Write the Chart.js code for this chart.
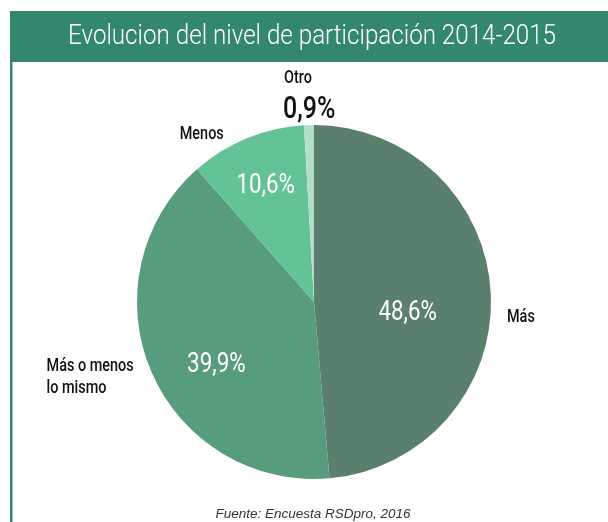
<!DOCTYPE html>
<html>
<head>
<meta charset="utf-8">
<script src="https://cdn.jsdelivr.net/npm/chart.js@4"></script>
<style>
  html, body { margin: 0; padding: 0; background: #fff; }
  #wrap { width: 608px; height: 522px; position: relative; }
</style>
</head>
<body>
<div id="wrap"><canvas id="pie" width="608" height="522"></canvas></div>
<script>
const labels = ["Más", "Más o menos|lo mismo", "Menos", "Otro"];
const values = [48.6, 39.9, 10.6, 0.9];
const colors = ["#5b7f6d", "#579c7d", "#63c397", "#b3dec7"];

const fmt = v => v.toFixed(1).replace(".", ",") + "%";

// narrow text: draw Roboto squeezed horizontally
function narrowText(c, text, x, y, font, sx, align) {
  c.save();
  c.font = font;
  c.textBaseline = "middle";
  c.textAlign = "left";
  const w = c.measureText(text).width * sx;
  let left = x;
  if (align === "center") left = x - w / 2;
  if (align === "right") left = x - w;
  c.translate(left, y);
  c.scale(sx, 1);
  c.fillText(text, 0, 0);
  c.restore();
}

// label placement: fraction of radius along slice middle, plus a nudge
const inside = [
  { r: 0.53, dx: 0, dy: 15 },
  { r: 0.60, dx: 0, dy: 21 },
  { r: 0.72, dx: 0, dy: 2 },
  null,
];
const outside = [
  { r: 1.17, dx: 0, dy: 24, align: "center" },
  { r: 1.22, dx: -69, dy: -21, align: "left" },
  { r: 1.06, dx: -63, dy: 6, align: "left" },
  { r: 1.00, dx: -25, dy: -47, align: "left" },
];

const decor = {
  id: "decor",
  beforeDraw(chart) {
    const c = chart.ctx;
    c.save();
    c.fillStyle = "#33876f";
    c.fillRect(10, 11, 598, 51);
    c.fillRect(10, 11, 2.5, 511);
    c.fillStyle = "#fff";
    const title = "Evolucion del nivel de participación 2014-2015";
    c.font = "300 28px Roboto";
    const sx = 488 / c.measureText(title).width;
    narrowText(c, title, 312, 37, "300 28px Roboto", sx, "center");
    c.fillStyle = "#333";
    c.font = "italic 13.5px 'Liberation Sans', Arial, sans-serif";
    c.textAlign = "center";
    c.textBaseline = "alphabetic";
    c.fillText("Fuente: Encuesta RSDpro, 2016", 313, 518);
    c.restore();
  },
  afterDatasetsDraw(chart) {
    const c = chart.ctx;
    const arcs = chart.getDatasetMeta(0).data;
    c.save();
    arcs.forEach((arc, i) => {
      const mid = (arc.startAngle + arc.endAngle) / 2;
      const R = arc.outerRadius;
      const ins = inside[i];
      if (ins) {
        c.fillStyle = "#fff";
        narrowText(c, fmt(values[i]),
          arc.x + Math.cos(mid) * R * ins.r + ins.dx,
          arc.y + Math.sin(mid) * R * ins.r + ins.dy,
          "28px Roboto", 0.8, "center");
      }
      const o = outside[i];
      const ox = arc.x + Math.cos(mid) * R * o.r + o.dx;
      const oy = arc.y + Math.sin(mid) * R * o.r + o.dy;
      c.fillStyle = "#111";
      labels[i].split("|").forEach((line, k) =>
        narrowText(c, line, ox, oy + k * 22, "500 19px Roboto", 0.76, o.align));
      if (!ins) {
        narrowText(c, fmt(values[i]), ox - 1, oy + 32, "500 32px Roboto", 0.78, o.align);
      }
    });
    c.restore();
  },
};

new Chart(document.getElementById("pie"), {
  type: "pie",
  data: {
    labels: labels,
    datasets: [{ data: values, backgroundColor: colors, borderWidth: 0 }],
  },
  options: {
    responsive: false,
    animation: false,
    layout: { padding: { left: 137, right: 117, top: 125, bottom: 43 } },
    plugins: { legend: { display: false }, tooltip: { enabled: false } },
  },
  plugins: [decor],
});
</script>
</body>
</html>
